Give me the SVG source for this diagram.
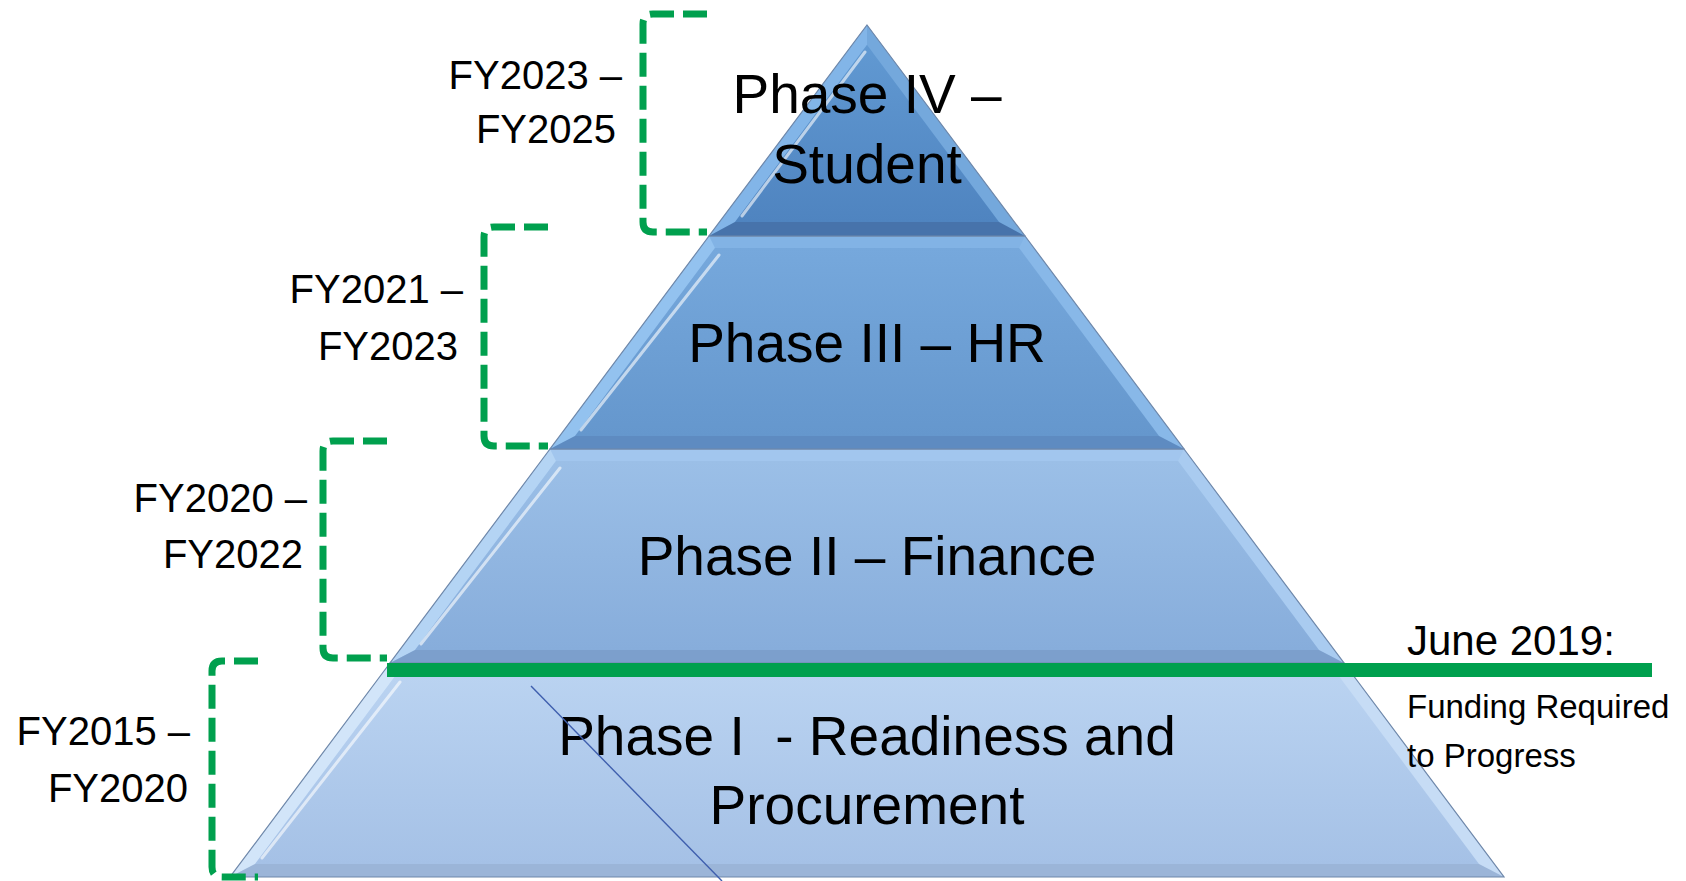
<svg xmlns="http://www.w3.org/2000/svg" width="1686" height="881" viewBox="0 0 1686 881">
<style>
.phase{font-family:"Liberation Sans",Arial,sans-serif;font-size:55px;fill:#000;text-anchor:middle}
.fy{font-family:"Liberation Sans",Arial,sans-serif;font-size:40px;fill:#000;text-anchor:end}
.ms{font-family:"Liberation Sans",Arial,sans-serif;fill:#000}
.bracket{fill:none;stroke:#00A04E;stroke-width:7;stroke-dasharray:24 9}
.outline{fill:none;stroke:#6f88aa;stroke-width:1.2}
.hl{fill:none;stroke:#ffffff;stroke-opacity:0.6;stroke-width:3;stroke-linecap:round}
</style>
<defs>
<linearGradient id="g4" x1="0" y1="0" x2="0" y2="1"><stop offset="0" stop-color="#6199d2"/><stop offset="1" stop-color="#4f84c0"/></linearGradient>
<linearGradient id="g3" x1="0" y1="0" x2="0" y2="1"><stop offset="0" stop-color="#76a8dc"/><stop offset="1" stop-color="#6597cd"/></linearGradient>
<linearGradient id="g2" x1="0" y1="0" x2="0" y2="1"><stop offset="0" stop-color="#9bbfe7"/><stop offset="1" stop-color="#87addb"/></linearGradient>
<linearGradient id="g1" x1="0" y1="0" x2="0" y2="1"><stop offset="0" stop-color="#bad3f1"/><stop offset="1" stop-color="#a5c1e6"/></linearGradient>
</defs>
<rect width="1686" height="881" fill="#ffffff"/>

<g id="phase1">
<polygon points="390,663 1344,663 1504,877 230,877" fill="#c2daf5"/>
<polygon points="390,663 396,675 255,864 230,877" fill="#d2e5f9"/>
<polygon points="1344,663 1338,675 1479,864 1504,877" fill="#c6dcf5"/>
<polygon points="255,864 1479,864 1504,877 230,877" fill="#9bb5d8"/>
<polygon points="396,675 1338,675 1479,864 255,864" fill="url(#g1)"/>
<line class="hl" x1="400" y1="682" x2="262" y2="858"/>
<polygon class="outline" points="390,663 1344,663 1504,877 230,877"/>
<text class="phase" x="867" y="755" xml:space="preserve">Phase I  - Readiness and</text>
<text class="phase" x="867" y="824">Procurement</text>
</g>

<g id="phase2">
<polygon points="550,449 1184,449 1344,663 390,663" fill="#a2c6ee"/>
<polygon points="550,449 556,461 415,650 390,663" fill="#b4d4f4"/>
<polygon points="1184,449 1178,461 1319,650 1344,663" fill="#a9cbf0"/>
<polygon points="415,650 1319,650 1344,663 390,663" fill="#7c9fcc"/>
<polygon points="556,461 1178,461 1319,650 415,650" fill="url(#g2)"/>
<line class="hl" x1="560" y1="468" x2="421" y2="644"/>
<polygon class="outline" points="550,449 1184,449 1344,663 390,663"/>
<text class="phase" x="867" y="575">Phase II – Finance</text>
</g>

<g id="phase3">
<polygon points="709,236 1025,236 1184,449 550,449" fill="#82b3e5"/>
<polygon points="709,236 715,248 575,436 550,449" fill="#93c2ef"/>
<polygon points="1025,236 1019,248 1159,436 1184,449" fill="#88b8e8"/>
<polygon points="575,436 1159,436 1184,449 550,449" fill="#5e8bc1"/>
<polygon points="715,248 1019,248 1159,436 575,436" fill="url(#g3)"/>
<line class="hl" x1="719" y1="255" x2="581" y2="430"/>
<polygon class="outline" points="709,236 1025,236 1184,449 550,449"/>
<text class="phase" x="867" y="362">Phase III – HR</text>
</g>

<g id="phase4">
<polygon points="867,25 1025,236 709,236" fill="#6ca2d8"/>
<polygon points="867,25 867,45 735,222 709,236" fill="#82b5e8"/>
<polygon points="867,25 867,45 999,222 1025,236" fill="#74a8dc"/>
<polygon points="735,222 999,222 1025,236 709,236" fill="#4773ab"/>
<polygon points="867,45 999,222 735,222" fill="url(#g4)"/>
<line class="hl" x1="865" y1="52" x2="742" y2="216"/>
<polygon class="outline" points="867,25 1025,236 709,236"/>
<text class="phase" x="867" y="113">Phase IV –</text>
<text class="phase" x="867" y="183">Student</text>
</g>

<g id="connectors">
<path class="bracket" d="M707,14 L653,14 Q643,14 643,24 L643,222 Q643,232 653,232 L707,232"/>
<path class="bracket" d="M548,227 L494,227 Q484,227 484,237 L484,436 Q484,446 494,446 L548,446"/>
<path class="bracket" d="M387,441 L333,441 Q323,441 323,451 L323,648 Q323,658 333,658 L387,658"/>
<path class="bracket" d="M258,661 L222,661 Q212,661 212,671 L212,867 Q212,877 222,877 L258,877"/>
<rect id="milestone-line" x="387" y="663" width="1265" height="14" fill="#00A04E"/>
<line x1="531" y1="686" x2="722" y2="881" stroke="#3f5fae" stroke-width="1.4"/>
</g>

<g id="label-fy2023">
<text class="fy" x="622" y="89">FY2023 –</text>
<text class="fy" x="616" y="143">FY2025</text>
</g>
<g id="label-fy2021">
<text class="fy" x="463" y="303">FY2021 –</text>
<text class="fy" x="458" y="360">FY2023</text>
</g>
<g id="label-fy2020">
<text class="fy" x="307" y="512">FY2020 –</text>
<text class="fy" x="303" y="568">FY2022</text>
</g>
<g id="label-fy2015">
<text class="fy" x="190" y="745">FY2015 –</text>
<text class="fy" x="188" y="802">FY2020</text>
</g>
<g id="label-june2019">
<text class="ms" x="1407" y="655" font-size="42">June 2019:</text>
<text class="ms" x="1407" y="718" font-size="33">Funding Required</text>
<text class="ms" x="1407" y="767" font-size="33">to Progress</text>
</g>
</svg>
